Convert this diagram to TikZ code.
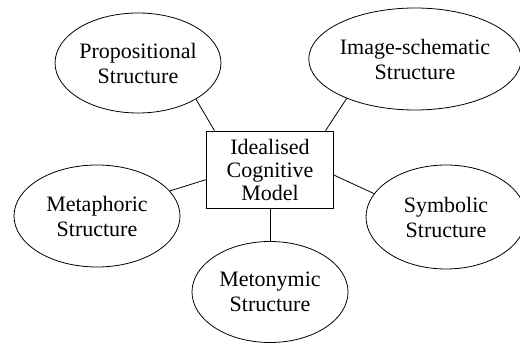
\documentclass[tikz,border=0pt]{standalone}
\usepackage{fontspec}
\setmainfont{Liberation Serif}
\usetikzlibrary{shapes.geometric}

\begin{document}
\begin{tikzpicture}[x=1pt, y=1pt]
		\tikzset{el/.style={ellipse, draw=black, line width=0.8pt, inner sep=0pt, align=center, font=\fontsize{22}{25}\selectfont}};
		\tikzset{bx/.style={rectangle, draw=black, line width=0.8pt, inner sep=0pt, align=center, minimum width=127pt, minimum height=77pt, font=\fontsize{22}{23}\selectfont}};

		\useasboundingbox (0, 0) rectangle (520, 345);

		\node[bx] (icm) at (270, 175.5) {Idealised\\Cognitive\\Model};
		\node[el, minimum width=156pt, minimum height=100pt] (prop) at (138, 282) {Propositional\\Structure};
		\node[el, minimum width=164pt, minimum height=102pt] (imag) at (415, 286) {Image-schematic\\Structure};
		\node[el, minimum width=166pt, minimum height=102pt] (meta) at (97, 129) {Metaphoric\\Structure};
		\node[el, minimum width=160pt, minimum height=104pt] (symb) at (446, 128) {Symbolic\\Structure};
		\node[el, minimum width=156pt, minimum height=101pt] (meto) at (270, 53) {Metonymic\\Structure};

		\draw[line width=0.8pt] (prop.-32) to (icm.145);
		\draw[line width=0.8pt] (imag.210) to (icm.35);
		\draw[line width=0.8pt] (meta.19) to (icm.189);
		\draw[line width=0.8pt] (icm.-5) to (symb.162);
		\draw[line width=0.8pt] (icm.south) to (meto.north);

\end{tikzpicture}
\end{document}
